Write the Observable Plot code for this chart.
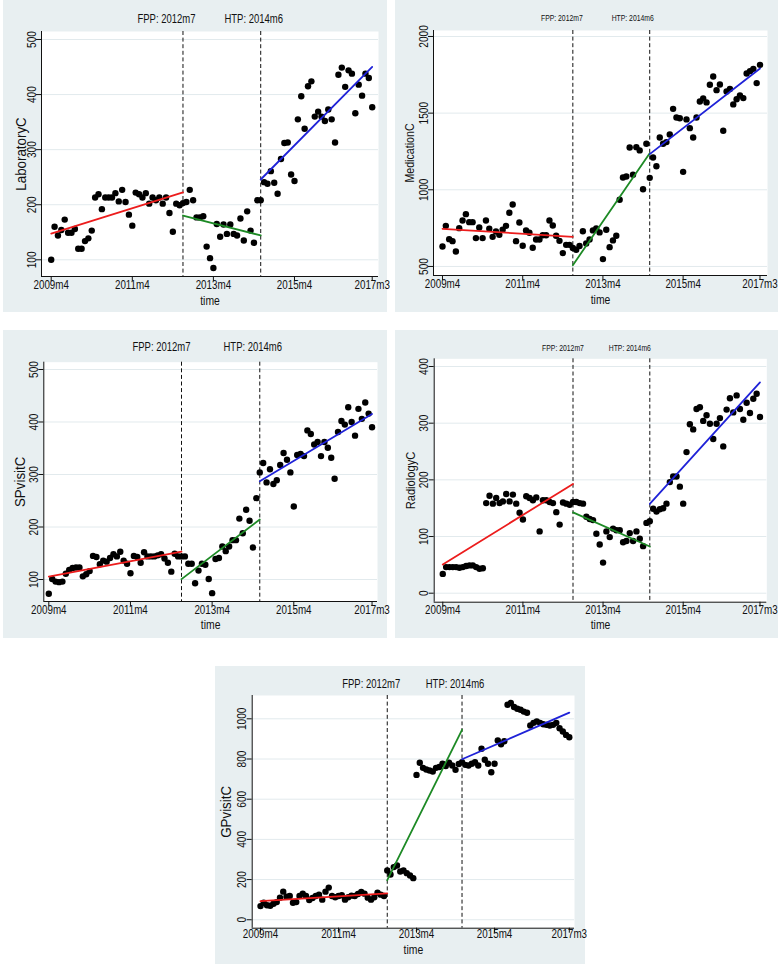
<!DOCTYPE html>
<html>
<head>
<meta charset="utf-8">
<script src="https://cdn.jsdelivr.net/npm/d3@7"></script>
<script src="https://cdn.jsdelivr.net/npm/@observablehq/plot@0.6"></script>
<style>
html, body { margin: 0; padding: 0; background: #ffffff; }
#page { position: relative; width: 778px; height: 964px; overflow: hidden; background: #ffffff; }
.panel { position: absolute; background: #e8eff1; }
.panel svg { display: block; max-width: none !important; }
</style>
</head>
<body>
<div id="page"></div>
<script>
// ---------- data ----------
// month index 0 = 2009m4 ... 95 = 2017m3
const months = d3.range(96);
const tickMonths = [0, 24, 48, 72, 95];
const tickLabels = ["2009m4", "2011m4", "2013m4", "2015m4", "2017m3"];
const eventMonths = [39, 62];
const eventLabels = ["FPP: 2012m7", "HTP: 2014m6"];
const segStarts = [0, 39, 62];
const segEnds = [39, 62, 95];

const laboratoryC = [
  100,160,144,154,173,149,149,156,120,120,134,139,153,213,219,192,213,213,213,221,
  206,227,205,182,162,222,219,213,221,202,213,208,213,202,213,185,151,202,199,203,
  205,227,208,177,177,179,124,103,85,165,142,164,147,164,147,144,175,135,188,153,
  131,208,208,241,238,261,240,220,283,312,313,255,243,355,397,338,415,424,360,369,
  360,352,373,355,313,436,449,414,444,438,366,418,398,438,430,377
];
const medicationC = [
  630,765,678,665,598,750,800,841,789,789,685,754,685,800,746,693,728,706,739,765,
  850,904,665,787,635,735,720,622,676,676,704,704,800,767,700,667,587,641,641,620,
  609,633,730,650,676,735,748,722,548,739,626,670,700,935,1080,1087,1276,1098,1278,1257,
  1004,1300,1078,1211,1154,1341,1300,1311,1361,1528,1472,1467,1117,1459,1402,1341,1472,1576,1596,1570,
  1685,1739,1650,1687,1385,1641,1657,1557,1591,1615,1598,1759,1774,1789,1696,1815
];
const spvisitC = [
  73,101,96,95,96,111,118,122,123,123,106,110,116,145,143,129,136,134,141,148,
  144,153,136,130,112,145,143,132,152,144,144,144,146,148,140,132,115,149,144,144,
  144,130,130,93,117,130,128,101,74,139,141,163,154,163,175,175,216,188,233,212,
  161,255,304,322,285,310,282,289,318,341,328,304,239,337,339,335,384,377,357,362,
  335,362,351,332,292,381,402,395,428,400,374,425,406,437,416,390
];
const radiologyC = [
  34,46,46,46,46,45,46,48,49,49,46,43,44,159,172,158,168,159,162,175,
  162,174,158,142,130,171,168,164,169,109,164,164,161,159,143,121,160,158,156,161,
  161,159,158,135,131,129,105,86,54,109,99,114,111,111,90,92,106,92,109,96,
  83,124,127,149,144,148,150,158,196,206,206,188,158,249,298,289,325,328,304,314,
  299,272,299,309,259,324,344,319,349,325,306,336,318,343,352,311
];
const gpvisitC = [
  68,85,72,70,80,88,110,140,115,118,85,88,118,130,118,98,108,118,125,100,
  140,160,118,112,118,122,100,112,120,118,128,138,130,110,100,112,135,125,118,245,
  225,262,270,240,245,232,220,207,721,781,756,748,743,738,756,760,776,765,781,768,
  746,775,784,771,768,776,784,768,851,796,776,734,776,892,873,888,1070,1079,1059,1050,
  1045,1036,1030,967,980,987,980,973,970,967,970,980,953,937,920,908
];

// ---------- styling ----------
const FONT = "'Liberation Sans', Arial, sans-serif";
const INK = "#111111";
const GRID = "#e2eaed";
const segColors = ["#ec1c1c", "#1d8a25", "#1f22d8"];

const panels = [
  {values: laboratoryC, title: "LaboratoryC", left: 3, top: 0, w: 384, h: 312,
   mL: 38, mR: 9, mT: 31, mB: 36, xDom: [-2.87, 96.86], yDom: [69.7, 514.5], yTicks: [100,200,300,400,500],
   titleSize: 14.5, titleScale: 0.92, titleDx: -16, evSize: 12.5, evDy: -8.3, evDx: [-16.5, -7], xPad: 7, timeDy: 28},
  {values: medicationC, title: "MedicationC", left: 395, top: 0, w: 383, h: 312,
   mL: 38, mR: 11, mT: 30, mB: 37, xDom: [-2.69, 97.24], yDom: [441, 2039], yTicks: [500,1000,1500,2000],
   titleSize: 13, titleScale: 0.82, titleDx: -20, evSize: 9, evDy: -9.3, evDx: [-11, -17], xPad: 7, timeDy: 28},
  {values: spvisitC, title: "SPvisitC", left: 3, top: 330, w: 384, h: 308,
   mL: 40.3, mR: 10, mT: 31.7, mB: 37, xDom: [-1.47, 96.6], yDom: [58.1, 513.9], yTicks: [100,200,300,400,500],
   titleSize: 14.5, titleScale: 0.92, titleDx: -19.3, evSize: 12.5, evDy: -11.7, evDx: [-20, -7], xPad: 7, timeDy: 27},
  {values: radiologyC, title: "RadiologyC", left: 395, top: 330, w: 383, h: 308,
   mL: 38.7, mR: 11.7, mT: 28.3, mB: 36.3, xDom: [-2.57, 97.04], yDom: [-15.9, 413.6], yTicks: [0,100,200,300,400],
   titleSize: 13, titleScale: 0.86, titleDx: -19.7, evSize: 9, evDy: -8.3, evDx: [-10, -20], xPad: 7, timeDy: 27},
  {values: gpvisitC, title: "GPvisitC", left: 215, top: 666, w: 370, h: 298,
   mL: 36.7, mR: 11, mT: 29, mB: 36.3, xDom: [-2.55, 96.6], yDom: [-42, 1116], yTicks: [0,200,400,600,800,1000],
   titleSize: 14.5, titleScale: 0.92, titleDx: -21.7, evSize: 12.5, evDy: -8, evDx: [-16, -7], xPad: 5, timeDy: 26}
];

// least-squares fit per segment (fit on [start, end), the last segment includes its end)
function segmentFits(values) {
  const rows = [];
  segStarts.forEach((s, k) => {
    const e = segEnds[k];
    const last = k < segStarts.length - 1 ? e - 1 : e;
    const pts = months.filter(t => t >= s && t <= last).map(t => [t, values[t]]);
    const mx = d3.mean(pts, p => p[0]), my = d3.mean(pts, p => p[1]);
    const b = d3.sum(pts, p => (p[0] - mx) * (p[1] - my)) / d3.sum(pts, p => (p[0] - mx) ** 2);
    const a = my - b * mx;
    rows.push({seg: k, t: s, v: a + b * s}, {seg: k, t: e, v: a + b * e});
  });
  return rows;
}

const page = document.getElementById("page");

panels.forEach(cfg => {
  const pts = months.map(t => ({t, v: cfg.values[t]}));
  const fit = segmentFits(cfg.values);
  const svg = Plot.plot({
    width: cfg.w, height: cfg.h,
    marginLeft: cfg.mL, marginRight: cfg.mR, marginTop: cfg.mT, marginBottom: cfg.mB,
    style: {background: "transparent", fontFamily: FONT, fontSize: "13px", color: INK, overflow: "visible"},
    x: {type: "linear", domain: cfg.xDom},
    y: {type: "linear", domain: cfg.yDom},
    marks: [
      Plot.frame({fill: "white", stroke: "none"}),
      Plot.gridY(cfg.yTicks, {stroke: GRID, strokeOpacity: 1, strokeWidth: 1}),
      Plot.ruleX(eventMonths, {stroke: INK, strokeWidth: 1, strokeDasharray: "4,2.6"}),
      Plot.dot(pts, {x: "t", y: "v", r: 3.2, fill: "#000", stroke: "none"}),
      ...segColors.map((c, k) => Plot.line(fit.filter(d => d.seg === k), {x: "t", y: "v", stroke: c, strokeWidth: 1.8})),
      Plot.ruleX([cfg.xDom[0]], {stroke: INK, strokeWidth: 1}),
      Plot.ruleY([cfg.yDom[0]], {stroke: INK, strokeWidth: 1}),
      Plot.axisX(tickMonths, {tickSize: 5, tickPadding: cfg.xPad, fontSize: 12.6, stroke: INK,
        tickFormat: d => tickLabels[tickMonths.indexOf(d)], label: null}),
      Plot.axisY(cfg.yTicks, {tickSize: 5, tickPadding: 1, tickRotate: -90, textAnchor: "middle",
        lineAnchor: "bottom", fontSize: 13, stroke: INK, tickFormat: d => String(d), label: null}),
      ...eventLabels.map((lab, k) => Plot.text([k], {x: d => eventMonths[d], text: d => eventLabels[d],
        frameAnchor: "top", textAnchor: "middle", lineAnchor: "middle",
        dy: cfg.evDy, dx: cfg.evDx[k], fontSize: cfg.evSize, fill: INK})),
      Plot.text([cfg.title], {frameAnchor: "left", textAnchor: "middle", lineAnchor: "middle",
        rotate: -90, dx: cfg.titleDx, fontSize: cfg.titleSize, fill: INK}),
      Plot.text(["time"], {frameAnchor: "bottom", textAnchor: "middle", lineAnchor: "middle",
        dy: cfg.timeDy, fontSize: 13, fill: INK})
    ]
  });
  // condensed lettering (narrow face look)
  svg.querySelectorAll("text").forEach(el => {
    const s = el.textContent;
    let k = 0.78;
    if (eventLabels.includes(s)) k = 0.76;
    else if (s === cfg.title) k = cfg.titleScale;
    else if (s === "time") k = 0.8;
    const x = +el.getAttribute("x") || 0, y = +el.getAttribute("y") || 0;
    el.removeAttribute("x"); el.removeAttribute("y");
    el.setAttribute("transform", `${el.getAttribute("transform") || ""} translate(${x},${y}) scale(${k},1)`);
  });
  const div = document.createElement("div");
  div.className = "panel";
  div.style.left = cfg.left + "px";
  div.style.top = cfg.top + "px";
  div.style.width = cfg.w + "px";
  div.style.height = cfg.h + "px";
  div.appendChild(svg);
  page.appendChild(div);
});
</script>
</body>
</html>
